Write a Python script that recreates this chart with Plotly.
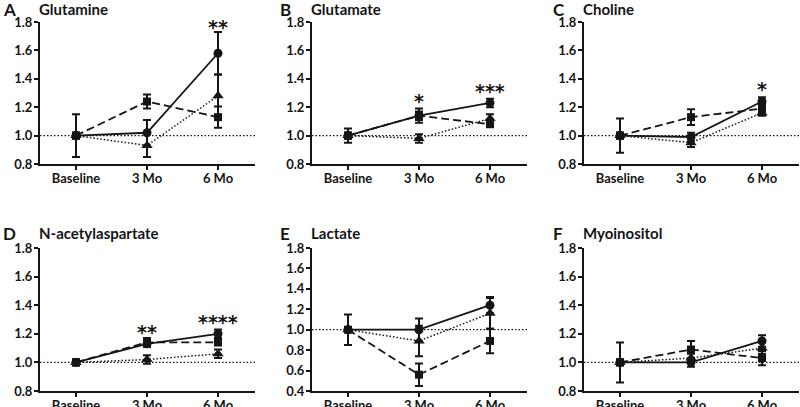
import plotly.graph_objects as go

categories = ["Baseline", "3 Mo", "6 Mo"]

panel_letters = ["A", "B", "C", "D", "E", "F"]
panel_titles = ["Glutamine", "Glutamate", "Choline", "N-acetylaspartate", "Lactate", "Myoinositol"]

# circle series (solid line)
circle_mean = [
    [1.0, 1.02, 1.58],
    [1.0, 1.14, 1.23],
    [1.0, 0.99, 1.24],
    [1.0, 1.13, 1.20],
    [1.0, 1.00, 1.24],
    [1.0, 1.00, 1.15],
]
circle_err = [
    [0.15, 0.09, 0.15],
    [0.05, 0.03, 0.03],
    [0.12, 0.03, 0.03],
    [0.02, 0.02, 0.03],
    [0.15, 0.11, 0.08],
    [0.14, 0.03, 0.04],
]
# square series (dashed line)
square_mean = [
    [1.0, 1.24, 1.13],
    [1.0, 1.14, 1.08],
    [1.0, 1.13, 1.19],
    [1.0, 1.14, 1.14],
    [1.0, 0.56, 0.89],
    [1.0, 1.09, 1.03],
]
square_err = [
    [0.02, 0.05, 0.075],
    [0.02, 0.05, 0.02],
    [0.02, 0.055, 0.03],
    [0.02, 0.03, 0.02],
    [0.02, 0.11, 0.12],
    [0.02, 0.06, 0.05],
]
# triangle series (dotted line)
triangle_mean = [
    [1.0, 0.93, 1.28],
    [1.0, 0.98, 1.12],
    [1.0, 0.95, 1.16],
    [1.0, 1.02, 1.06],
    [1.0, 0.89, 1.16],
    [1.0, 1.03, 1.10],
]
triangle_err = [
    [0.02, 0.08, 0.15],
    [0.02, 0.03, 0.03],
    [0.02, 0.03, 0.02],
    [0.02, 0.03, 0.03],
    [0.02, 0.15, 0.15],
    [0.02, 0.03, 0.04],
]
# significance stars
star_panel = [0, 1, 1, 2, 3, 3]
star_cat = [2, 1, 2, 2, 1, 2]
star_y = [1.67, 1.15, 1.22, 1.24, 1.12, 1.19]
star_text = ["**", "*", "***", "*", "**", "****"]

y_ranges = [[0.8, 1.8]] * 4 + [[0.4, 1.8]] + [[0.8, 1.8]]

W, H = 800, 407
col_left = [40, 312, 584]
plot_w = 215
row_top = [22, 248]
row_bot = [164, 391]
xr = [-36 / 71, (plot_w - 36) / 71]


def px(x):
    return max(x / W, 0.0)


def py(y):
    return 1 - y / H


FONT = "Lato"
INK = "#151515"

fig = go.Figure()
layout = dict(
    width=W, height=H,
    margin=dict(l=0, r=0, t=0, b=0, pad=0, autoexpand=False),
    paper_bgcolor="white", plot_bgcolor="white", showlegend=False,
    font=dict(family=FONT, color=INK),
)
annotations = []
shapes = []

series = [
    (circle_mean, circle_err, "circle", "solid", 1.8, 9),
    (square_mean, square_err, "square", "8px,4px", 1.8, 8),
    (triangle_mean, triangle_err, "triangle-up", "1.5px,2px", 1.5, 10),
]

letter_x = [1, 278, 551]

for p in range(6):
    r, c = divmod(p, 3)
    xa = "x" if p == 0 else f"x{p+1}"
    ya = "y" if p == 0 else f"y{p+1}"
    xkey = "xaxis" if p == 0 else f"xaxis{p+1}"
    ykey = "yaxis" if p == 0 else f"yaxis{p+1}"
    x0 = px(col_left[c])
    x1 = min(px(col_left[c] + plot_w), 1.0)
    y0 = py(row_bot[r])
    y1 = py(row_top[r])
    lo, hi = y_ranges[p]
    layout[xkey] = dict(
        domain=[x0, x1], anchor=ya, range=xr, tickmode="array",
        tickvals=[0, 1, 2], ticktext=categories, showline=True, linecolor=INK,
        linewidth=2, ticks="outside", ticklen=4, tickwidth=2, tickcolor=INK,
        showgrid=False, zeroline=False, fixedrange=True, ticklabelstandoff=-3,
        automargin=False,
        tickfont=dict(family=FONT, size=13, color=INK, weight="bold"),
    )
    layout[ykey] = dict(
        domain=[y0, y1], anchor=xa, range=[lo, hi], tickmode="linear",
        tick0=lo, dtick=0.2, tickformat=".1f", showline=True, linecolor=INK,
        linewidth=2, ticks="outside", ticklen=4, tickwidth=2, tickcolor=INK,
        showgrid=False, zeroline=False, fixedrange=True, ticklabelstandoff=-1,
        automargin=False,
        tickfont=dict(family=FONT, size=13, color=INK, weight="bold"),
    )
    shapes.append(dict(
        type="line", xref=f"{xa} domain", yref=ya, x0=0, x1=1, y0=1.0, y1=1.0,
        line=dict(color=INK, width=1.3, dash="1.5px,2px"), layer="below",
    ))
    for mean, err, sym, dash, lw, ms in series:
        fig.add_trace(go.Scatter(
            x=[0, 1, 2], y=mean[p], xaxis=xa, yaxis=ya, mode="lines+markers",
            line=dict(color=INK, width=lw, dash=dash),
            marker=dict(symbol=sym, size=ms, color=INK),
            error_y=dict(type="data", array=err[p], visible=True, color=INK,
                         thickness=2, width=4),
            cliponaxis=False,
        ))
    title_y = row_top[r] - (13 if r == 0 else 15)
    annotations.append(dict(
        text=panel_letters[p], xref="paper", yref="paper",
        x=px(letter_x[c]), y=py(title_y), xanchor="left", yanchor="middle",
        showarrow=False, font=dict(family=FONT, size=17, color=INK, weight="bold"),
    ))
    annotations.append(dict(
        text=panel_titles[p], xref="paper", yref="paper",
        x=px(col_left[c] - 3), y=py(title_y),
        xanchor="left", yanchor="middle", showarrow=False,
        font=dict(family=FONT, size=15, color=INK, weight="bold"),
    ))

for i in range(len(star_text)):
    p = star_panel[i]
    xa = "x" if p == 0 else f"x{p+1}"
    ya = "y" if p == 0 else f"y{p+1}"
    annotations.append(dict(
        text=star_text[i], xref=xa, yref=ya, x=star_cat[i], y=star_y[i],
        xanchor="center", yanchor="bottom", showarrow=False,
        font=dict(family="DejaVu Sans", size=19, color=INK, weight="bold"),
    ))

layout["annotations"] = annotations
layout["shapes"] = shapes
fig.update_layout(**layout)
fig.write_html(
    "out.html",
    config={"displayModeBar": False},
    post_script="document.body.style.margin='0';document.body.style.overflow='hidden';",
)
